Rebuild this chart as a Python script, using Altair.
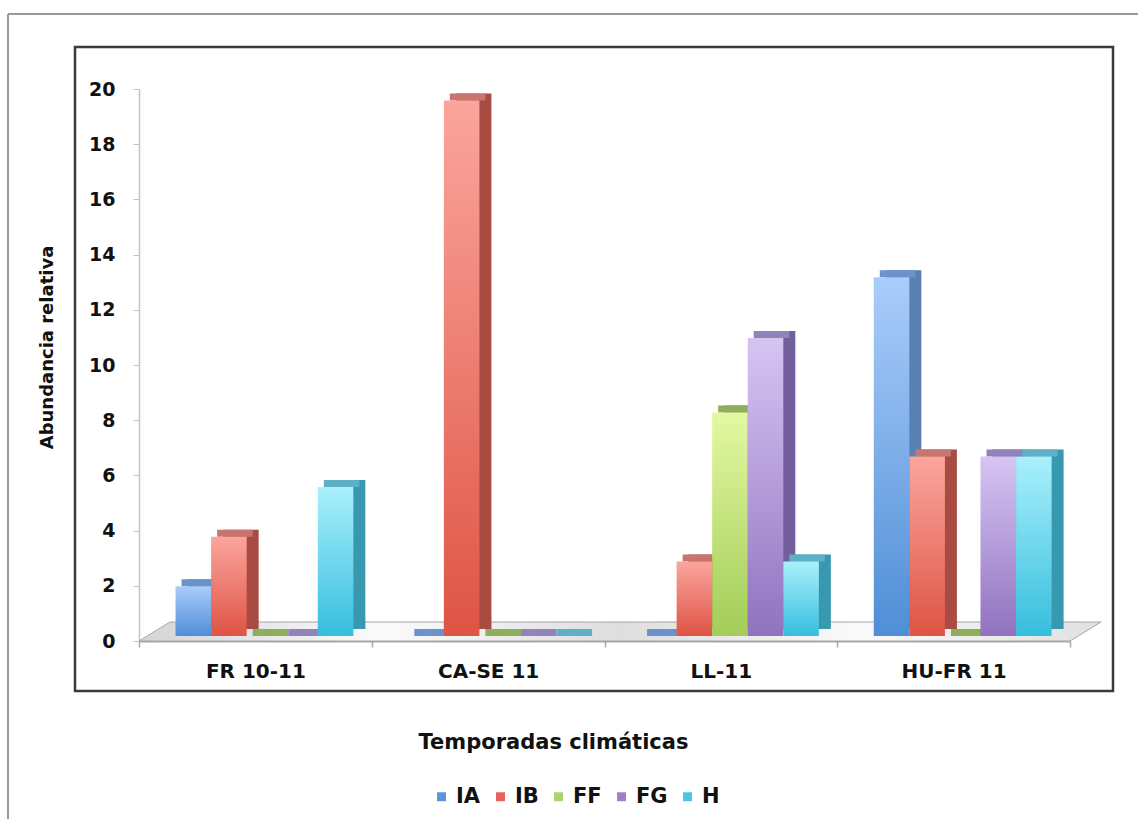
import json
import altair as alt
import pandas as pd

# ---------------- data ----------------
categories = ["FR 10-11", "CA-SE 11", "LL-11", "HU-FR 11"]
series = ["IA", "IB", "FF", "FG", "H"]
ia = [1.8, 0.0, 0.0, 13.0]
ib = [3.6, 19.4, 2.7, 6.5]
ff = [0.0, 0.0, 8.1, 0.0]
fg = [0.0, 0.0, 10.8, 6.5]
h_vals = [5.4, 0.0, 2.7, 6.5]
y_ticks = [0, 2, 4, 6, 8, 10, 12, 14, 16, 18, 20]

values = {"IA": ia, "IB": ib, "FF": ff, "FG": fg, "H": h_vals}

# ---------------- styles ----------------
legend_colors = ["#5b93dc", "#e8625a", "#a9d46a", "#9b80c8", "#48c6e4"]
front_top = ["#aacdfb", "#fba59d", "#e3f8a2", "#d6c5f3", "#a9f0fb"]
front_bottom = ["#4f8ed6", "#de5444", "#a3cd58", "#9172bf", "#36bede"]
side_colors = ["#5a7fb3", "#a84b43", "#7d9c4a", "#72609e", "#3898b0"]
top_colors = ["#6c92cc", "#c9756d", "#8eae5e", "#9383bb", "#5eb0c6"]

FONT = "DejaVu Sans"
W, H = 931, 552
PAD_L, PAD_T = 139, 89
START, BW = 0.157, 0.1528   # group start / bar width in category units
DX, DY = 12, 7              # bar depth (px)
LIFT = 5                    # bars sit slightly behind the floor front edge
FLOOR_DX, FLOOR_DY = 31, 19

rows = []
for si, s in enumerate(series):
    for ci, c in enumerate(categories):
        rows.append({"category": c, "ci": ci, "series": s, "si": si, "value": values[s][ci]})
df = pd.DataFrame(rows)

xs = alt.Scale(domain=[0, len(categories)], nice=False, zero=False)
ys = alt.Scale(domain=[0, 20], nice=False)

x_axis = alt.Axis(
    values=list(range(len(categories) + 1)),
    labelExpr=json.dumps(categories + [""]) + "[datum.value]",
    labelOffset=W / len(categories) / 2,
    labelFlush=False, labelOverlap=False, grid=False,
    domainColor="#a8a8a8", domainWidth=2, tickColor="#a8a8a8", tickSize=6, tickWidth=1.5,
    labelFont=FONT, labelFontWeight="bold", labelFontSize=20, labelColor="#111111",
    labelPadding=14, labelAlign="center",
    titleFont=FONT, titleFontWeight="bold", titleFontSize=21, titleColor="#111111",
    titleX=414, titleY=101, titleAlign="center", titleBaseline="middle",
)
y_axis = alt.Axis(
    values=y_ticks, grid=False,
    domainColor="#c4c4c4", domainWidth=1.5, tickColor="#c4c4c4", tickSize=6,
    labelFont=FONT, labelFontWeight="bold", labelFontSize=19, labelColor="#111111",
    labelPadding=18,
    titleFont=FONT, titleFontWeight="bold", titleFontSize=18, titleColor="#111111",
    titleX=-92, titleY=258, titleAngle=270, titleAlign="center", titleBaseline="middle",
)

X_ENC = alt.X("x0:Q", scale=xs, axis=x_axis, title="Temporadas climáticas")
Y_ENC = alt.Y("value:Q", scale=ys, axis=y_axis, title="Abundancia relativa")

base = alt.Chart(df).transform_calculate(
    x0=f"datum.ci + {START} + datum.si * {BW}",
    x1=f"datum.ci + {START} + (datum.si + 1) * {BW}",
    base="0",
)

# frames
one = pd.DataFrame({"k": [0]})
inner_box = alt.Chart(one).mark_rect(
    fill="white", fillOpacity=0, stroke="#3a3a3a", strokeWidth=2.5
).encode(x=alt.value(-64), x2=alt.value(974), y=alt.value(-42), y2=alt.value(602))
outer_top = alt.Chart(one).mark_rule(color="#9a9a9a", strokeWidth=2).encode(
    x=alt.value(-131), x2=alt.value(1000), y=alt.value(-75))
outer_left = alt.Chart(one).mark_rule(color="#9a9a9a", strokeWidth=2).encode(
    x=alt.value(-131), y=alt.value(-75), y2=alt.value(731))

# floor
fdx = FLOOR_DX / (W / len(categories))
fdy = FLOOR_DY / (H / 20)
floor_df = pd.DataFrame({
    "x0": [0, fdx, len(categories), len(categories) + fdx],
    "value": [0, fdy, fdy, fdy],
    "base": [0, 0, 0, fdy],
})
floor_grad = alt.Gradient(
    gradient="linear",
    stops=[alt.GradientStop(color="#d4d4d4", offset=0),
           alt.GradientStop(color="#fbfbfb", offset=0.25),
           alt.GradientStop(color="#dedede", offset=0.5),
           alt.GradientStop(color="#fafafa", offset=0.75),
           alt.GradientStop(color="#e0e0e0", offset=1)],
    x1=0, x2=1, y1=0, y2=0,
)
floor = alt.Chart(floor_df).mark_area(
    orient="vertical", fill=floor_grad, stroke="#a4a4a4", strokeWidth=1
).encode(x=X_ENC, y=Y_ENC, y2="base:Q")

sides = []
tops = []
fronts = []
for si, s in enumerate(series):
    sub = base.transform_filter(alt.datum.series == s)
    sides.append(
        sub.mark_rect(
            fill=side_colors[si],
            xOffset=DX, x2Offset=DX, yOffset=-(LIFT + DY), y2Offset=-(LIFT + DY),
        ).encode(x=X_ENC, x2="x1:Q", y=Y_ENC, y2="base:Q")
    )
    tops.append(
        sub.mark_rect(
            fill=top_colors[si],
            xOffset=DX / 2, x2Offset=DX / 2, yOffset=-(LIFT + DY), y2Offset=-LIFT,
        ).encode(x=X_ENC, x2="x1:Q", y=Y_ENC, y2="value:Q")
    )
    grad = alt.Gradient(
        gradient="linear",
        stops=[alt.GradientStop(color=front_top[si], offset=0),
               alt.GradientStop(color=front_bottom[si], offset=1)],
        x1=0, x2=0, y1=0, y2=1,
    )
    fronts.append(
        sub.mark_rect(fill=grad, yOffset=-LIFT, y2Offset=-LIFT)
        .encode(x=X_ENC, x2="x1:Q", y=Y_ENC, y2="base:Q")
    )

# legend carrier: invisible points that only provide the colour legend
legend_layer = base.mark_point(size=0, opacity=0, filled=True, shape="square").encode(
    x=X_ENC, y=Y_ENC,
    color=alt.Color(
        "series:N", scale=alt.Scale(domain=series, range=legend_colors),
        legend=alt.Legend(
            title=None, orient="none", legendX=292, legendY=697, direction="horizontal",
            symbolType="square", symbolSize=80, symbolStrokeWidth=0, symbolOpacity=1,
            labelFont=FONT, labelFontWeight="bold", labelFontSize=21, labelColor="#111111",
            labelOffset=4, columnPadding=9,
        ),
    ),
)

chart = alt.layer(
    outer_top, outer_left, inner_box, floor, *sides, *tops, *fronts, legend_layer
).properties(
    width=W, height=H,
    background="white",
    padding={"left": PAD_L, "top": PAD_T, "right": 1138 - PAD_L - W, "bottom": 819 - PAD_T - H},
    autosize=alt.AutoSizeParams(type="none"),
).configure_view(stroke=None)

chart.save("out.html", embed_options={"renderer": "svg", "actions": False})
